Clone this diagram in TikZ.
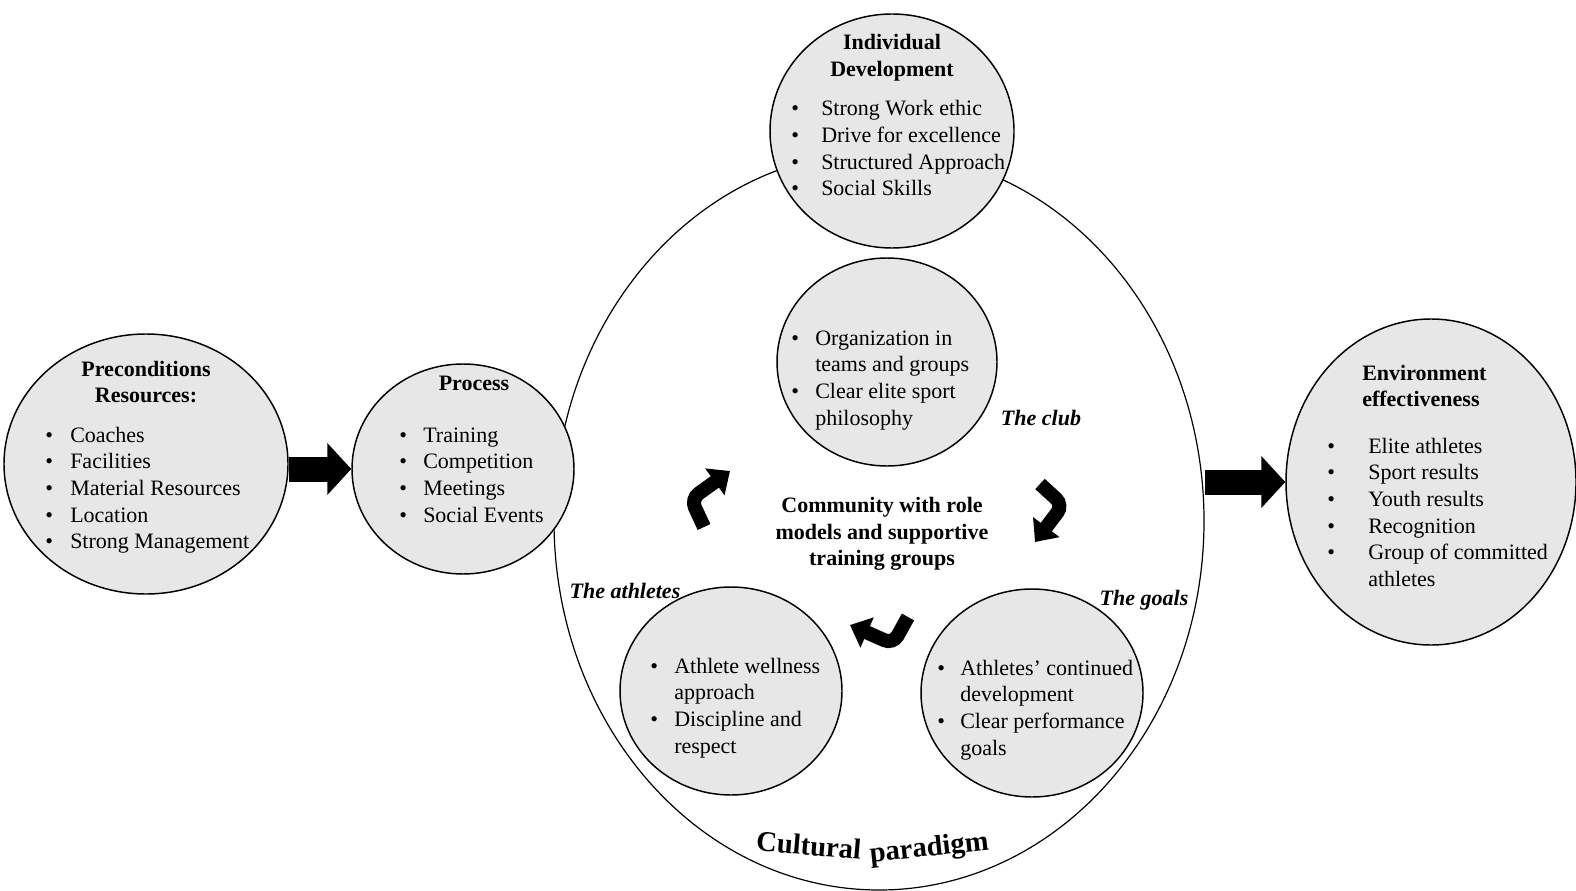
\documentclass[tikz,border=0pt]{standalone}
\usepackage{fontspec}
\setmainfont{Liberation Serif}
\usetikzlibrary{shapes.geometric,arrows.meta}
\definecolor{bubblegray}{HTML}{E7E7E7}
\newcommand{\bodyfont}{\fontsize{16.5}{20}\selectfont}
\newcommand{\itemlist}[2]{\begin{tabular}[t]{@{}p{#1}@{}l@{}}#2\end{tabular}}
\tikzset{
  bubble/.style={ellipse, draw, line width=1.1pt, fill=bubblegray, inner sep=0pt},
  head/.style={font=\bodyfont\bfseries, align=center, inner sep=0pt},
  tag/.style={font=\bodyfont\bfseries\itshape, inner sep=0pt},
  items/.style={font=\bodyfont, inner sep=0pt, anchor=base west},
  title/.style={font=\fontsize{21.5}{26}\selectfont\bfseries, inner sep=0pt, anchor=base},
  bigarrow/.style={line width=18.75pt, -{Triangle[length=18pt,width=38pt]}},
  turn/.style={line width=10.5pt, rounded corners=7pt, -{Triangle[length=14pt,width=24pt]}}
}
\begin{document}
\begin{tikzpicture}[x=0.75pt,y=-0.75pt]
\useasboundingbox (0,0) rectangle (1576,891);
% outer ellipse and the bubbles
\node[ellipse, draw, line width=0.9pt, minimum width=487.5pt, minimum height=553.5pt, inner sep=0pt] (big) at (879,521) {};
\node[bubble, minimum width=213pt, minimum height=195pt] (pre) at (146,464) {};
\node[bubble, minimum width=166.5pt, minimum height=157.5pt] (proc) at (463,469) {};
\node[bubble, minimum width=183pt, minimum height=175.5pt] (indiv) at (892,131) {};
\node[bubble, minimum width=165pt, minimum height=156pt] (club) at (887,362) {};
\node[bubble, minimum width=166.5pt, minimum height=156pt] (ath) at (731,691) {};
\node[bubble, minimum width=166.5pt, minimum height=156pt] (goal) at (1032,693) {};
\node[bubble, minimum width=217.5pt, minimum height=244.5pt] (env) at (1431,482) {};
% block arrows
\draw[bigarrow] (pre.east |- proc.west) -- (proc.west);
\draw[bigarrow] (big.east |- env.west) -- (env.west);
% headings
\node[head] (prehead) at (146,382) {Preconditions\\Resources:};
\node[head] (prochead) at (474,383) {Process};
\node[head] (indivhead) at (892,58) {Individual\\Development};
\node[head, align=left, anchor=west] (envhead) at (1362,386) {Environment\\effectiveness};
\node[head] (community) at (882,534) {Community with role\\models and supportive\\training groups};
% lists
\node[items] (prelist) at (45,442) {\itemlist{18.75pt}{\textbullet & Coaches\\ \textbullet & Facilities\\ \textbullet & Material Resources\\ \textbullet & Location\\ \textbullet & Strong Management}};
\node[items] (proclist) at (399,442) {\itemlist{18pt}{\textbullet & Training\\ \textbullet & Competition\\ \textbullet & Meetings\\ \textbullet & Social Events}};
\node[items] (indivlist) at (791,116) {\itemlist{22.5pt}{\textbullet & Strong Work ethic\\ \textbullet & Drive for excellence\\ \textbullet & Structured Approach\\ \textbullet & Social Skills}};
\node[items] (clublist) at (791,345) {\itemlist{18pt}{\textbullet & Organization in\\ & teams and groups\\ \textbullet & Clear elite sport\\ & philosophy}};
\node[items] (athlist) at (650,673) {\itemlist{18pt}{\textbullet & Athlete wellness\\ & approach\\ \textbullet & Discipline and\\ & respect}};
\node[items] (goallist) at (937,675) {\itemlist{17.25pt}{\textbullet & Athletes’ continued\\ & development\\ \textbullet & Clear performance\\ & goals}};
\node[items] (envlist) at (1327,453) {\itemlist{30.75pt}{\textbullet & Elite athletes\\ \textbullet & Sport results\\ \textbullet & Youth results\\ \textbullet & Recognition\\ \textbullet & Group of committed\\ & athletes}};
% labels
\node[tag] (clubtag) at (1041,418) {The club};
\node[tag] (athtag) at (625,591) {The athletes};
\node[tag] (goaltag) at (1144,600) {The goals};
% turning arrows
\draw[turn] (704,527) -- (691,499) -- (730,471);
\draw[turn] (1040,484) -- (1063,505) -- (1035,542);
\draw[turn] (908,617) -- (893,644) -- (850,625);
% curved title
\node[title, rotate=-5] (culture) at (808,855) {Cultural};
\node[title, rotate=6] (paradigm) at (930,856) {paradigm};
\end{tikzpicture}
\end{document}
